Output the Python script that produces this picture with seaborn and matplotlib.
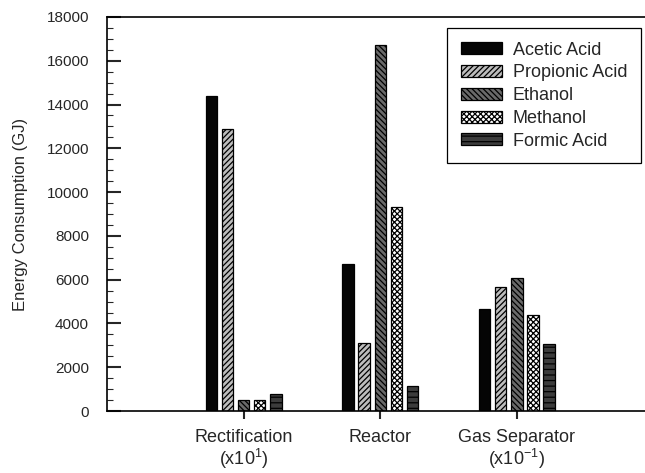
import pandas as pd
import matplotlib
matplotlib.use("Agg")
import matplotlib.pyplot as plt
from matplotlib.ticker import MultipleLocator
import seaborn as sns

# data
units = ["Rectification", "Reactor", "Gas Separator"]
unit_labels = ["Rectification\n(x10$^{1}$)", "Reactor", "Gas Separator\n(x10$^{-1}$)"]
products = ["Acetic Acid", "Propionic Acid", "Ethanol", "Methanol", "Formic Acid"]

acetic = [14400, 6700, 4670]
propionic = [12900, 3100, 5680]
ethanol = [500, 16700, 6080]
methanol = [500, 9300, 4370]
formic = [760, 1150, 3060]

rows = []
for prod, vals in zip(products, [acetic, propionic, ethanol, methanol, formic]):
    for u, v in zip(units, vals):
        rows.append({"unit": u, "product": prod, "energy": v})
df = pd.DataFrame(rows)

sns.set_style("ticks")
plt.rcParams["font.family"] = ["Liberation Sans", "DejaVu Sans"]
plt.rcParams["mathtext.default"] = "regular"
plt.rcParams["hatch.linewidth"] = 0.9

colors = ["#050505", "#bdbdbd", "#6a6a6a", "#ffffff", "#3c3c3c"]
hatches = ["", "//////", "\\\\\\\\\\\\", "xxxxxx", "---"]

fig = plt.figure(figsize=(6.45, 4.73), dpi=100)
ax = fig.add_axes([107 / 645, 62 / 473, 546.5 / 645, 394 / 473])

sns.barplot(data=df, x="unit", y="energy", hue="product", order=units,
            hue_order=products, palette=colors, width=0.59, gap=0.3,
            edgecolor="black", linewidth=0.9, saturation=1, ax=ax, legend=False)

for cont, h in zip(ax.containers, hatches):
    for bar in cont.patches:
        bar.set_hatch(h)

ax.set_xlim(-1, 3)
ax.set_ylim(0, 18000)
ax.set_xticks(range(len(units)))
ax.set_xticklabels(unit_labels, fontsize=13, linespacing=1.05)
ax.yaxis.set_major_locator(MultipleLocator(2000))
ax.yaxis.set_minor_locator(MultipleLocator(500))
ax.tick_params(axis="y", which="major", direction="in", length=10, width=1.5,
               labelsize=11, pad=13)
ax.tick_params(axis="y", which="minor", direction="in", length=4, width=0.8)
ax.tick_params(axis="x", direction="out", length=6, width=1.5, pad=7)

ax.set_xlabel("")
ax.set_ylabel("Energy Consumption (GJ)", fontsize=12, labelpad=13)

for side in ["left", "bottom", "top"]:
    ax.spines[side].set_visible(True)
    ax.spines[side].set_linewidth(1.2)
    ax.spines[side].set_color("black")
ax.spines["right"].set_visible(False)

leg = ax.legend(ax.containers, products, loc="upper right",
                bbox_to_anchor=(0.977, 0.972), fontsize=13, frameon=True,
                fancybox=False, edgecolor="black", framealpha=1,
                handlelength=2.3, handleheight=0.65, labelspacing=0.32,
                borderpad=0.75, handletextpad=0.6, borderaxespad=0)
leg.get_frame().set_linewidth(0.9)

fig.savefig("out.png", dpi=100)
